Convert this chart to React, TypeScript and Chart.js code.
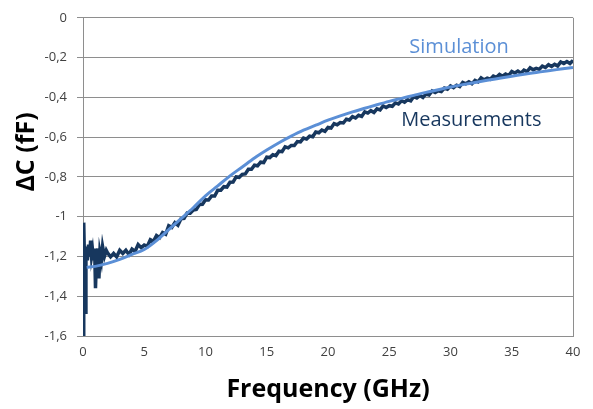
import React, { useEffect, useRef } from "react";
import { Chart, registerables } from "chart.js";

Chart.register(...registerables);

const simFreq = [0.3, 1, 2, 3, 4, 5, 6, 7, 8, 9, 10, 11, 12, 13, 14, 15, 16, 17, 18, 19, 20, 21, 22, 23, 24, 25, 26, 27, 28, 29, 30, 31, 32, 33, 34, 35, 36, 37, 38, 39, 40];
const simValues = [-1.255, -1.25, -1.235, -1.215, -1.19, -1.165, -1.12, -1.065, -1.01, -0.955, -0.895, -0.845, -0.795, -0.75, -0.705, -0.665, -0.628, -0.595, -0.565, -0.54, -0.515, -0.493, -0.473, -0.455, -0.437, -0.42, -0.405, -0.39, -0.375, -0.362, -0.348, -0.336, -0.325, -0.314, -0.304, -0.294, -0.284, -0.275, -0.266, -0.258, -0.25];

const measFreq = [
  0.02, 0.06, 0.12, 0.18, 0.24, 0.3, 0.36, 0.45, 0.55, 0.62, 0.7, 0.78, 0.86, 0.95, 1.02, 1.1, 1.2, 1.3, 1.38, 1.5, 1.6, 1.75, 1.9,
  2, 2.25, 2.5, 2.75, 3, 3.25, 3.5, 3.75, 4, 4.25, 4.5, 4.75, 5, 5.25, 5.5, 5.75, 6, 6.25, 6.5, 6.75, 7, 7.25, 7.5, 7.75,
  8, 8.25, 8.5, 8.75, 9, 9.25, 9.5, 9.75, 10, 10.25, 10.5, 10.75, 11, 11.25, 11.5, 11.75, 12, 12.25, 12.5, 12.75,
  13, 13.25, 13.5, 13.75, 14, 14.25, 14.5, 14.75, 15, 15.25, 15.5, 15.75, 16, 16.25, 16.5, 16.75, 17, 17.25, 17.5, 17.75,
  18, 18.25, 18.5, 18.75, 19, 19.25, 19.5, 19.75, 20, 20.25, 20.5, 20.75, 21, 21.25, 21.5, 21.75, 22, 22.25, 22.5, 22.75,
  23, 23.25, 23.5, 23.75, 24, 24.25, 24.5, 24.75, 25, 25.25, 25.5, 25.75, 26, 26.25, 26.5, 26.75, 27, 27.25, 27.5, 27.75,
  28, 28.25, 28.5, 28.75, 29, 29.25, 29.5, 29.75, 30, 30.25, 30.5, 30.75, 31, 31.25, 31.5, 31.75, 32, 32.25, 32.5, 32.75,
  33, 33.25, 33.5, 33.75, 34, 34.25, 34.5, 34.75, 35, 35.25, 35.5, 35.75, 36, 36.25, 36.5, 36.75, 37, 37.25, 37.5, 37.75,
  38, 38.25, 38.5, 38.75, 39, 39.25, 39.5, 39.75, 40,
];
const measValues = [
  -1.6, -1.03, -1.22, -1.48, -1.2, -1.15, -1.22, -1.14, -1.2, -1.12, -1.2, -1.17, -1.22, -1.16, -1.36, -1.2, -1.16, -1.31, -1.18, -1.22, -1.15, -1.2, -1.17,
  -1.182, -1.202, -1.185, -1.202, -1.169, -1.185, -1.169, -1.19, -1.163, -1.175, -1.14, -1.156, -1.143, -1.149, -1.116, -1.124, -1.095, -1.106, -1.08, -1.088, -1.046, -1.054, -1.03, -1.043,
  -1.011, -1.009, -0.982, -0.983, -0.967, -0.964, -0.939, -0.938, -0.915, -0.916, -0.896, -0.896, -0.867, -0.867, -0.849, -0.851, -0.827, -0.826, -0.8, -0.802,
  -0.787, -0.785, -0.762, -0.762, -0.741, -0.744, -0.726, -0.728, -0.701, -0.703, -0.688, -0.693, -0.671, -0.673, -0.649, -0.654, -0.642, -0.642, -0.622, -0.624,
  -0.605, -0.61, -0.595, -0.598, -0.574, -0.578, -0.564, -0.571, -0.551, -0.554, -0.532, -0.538, -0.527, -0.529, -0.51, -0.514, -0.497, -0.504, -0.49, -0.496,
  -0.473, -0.479, -0.467, -0.476, -0.458, -0.463, -0.443, -0.451, -0.442, -0.445, -0.428, -0.433, -0.417, -0.424, -0.412, -0.418, -0.396, -0.403, -0.391, -0.401,
  -0.383, -0.388, -0.368, -0.376, -0.367, -0.371, -0.353, -0.359, -0.343, -0.351, -0.339, -0.346, -0.325, -0.332, -0.322, -0.332, -0.315, -0.322, -0.302, -0.312,
  -0.304, -0.309, -0.293, -0.299, -0.285, -0.294, -0.283, -0.29, -0.27, -0.278, -0.268, -0.279, -0.263, -0.27, -0.251, -0.261, -0.254, -0.259, -0.243, -0.25,
  -0.236, -0.245, -0.234, -0.242, -0.222, -0.23, -0.22, -0.23, -0.214,
];

const xTitle = "Frequency (GHz)";
const yTitle = "ΔC (fF)";
const simLabel = "Simulation";
const measLabel = "Measurements";

const SIM_COLOR = "#5B8FD6";
const MEAS_COLOR = "#17375E";
const GRID = "#8E8E8E";
const FONT = "'Open Sans', sans-serif";

export default function App() {
  const ref = useRef<HTMLCanvasElement | null>(null);

  useEffect(() => {
    document.body.style.margin = "0";
    const canvas = ref.current;
    if (!canvas) return;

    const textPlugin = {
      id: "texts",
      afterDraw(chart: any) {
        const ctx = chart.ctx;
        const x = chart.scales.x;
        const y = chart.scales.y;
        const area = chart.chartArea;
        ctx.save();
        ctx.textAlign = "center";
        ctx.textBaseline = "middle";
        ctx.font = `20px ${FONT}`;
        ctx.fillStyle = SIM_COLOR;
        ctx.fillText(simLabel, x.getPixelForValue(30.7), y.getPixelForValue(-0.15));
        ctx.fillStyle = MEAS_COLOR;
        ctx.fillText(measLabel, x.getPixelForValue(31.7), y.getPixelForValue(-0.515));
        ctx.fillStyle = "#000";
        ctx.font = `bold 25px ${FONT}`;
        ctx.fillText(xTitle, (area.left + area.right) / 2, 390);
        ctx.translate(27, 152);
        ctx.rotate(-Math.PI / 2);
        ctx.fillText(yTitle, 0, 0);
        ctx.restore();
      },
    };

    const chart = new Chart(canvas, {
      type: "line",
      data: {
        datasets: [
          {
            label: simLabel,
            data: simFreq.map((f, i) => ({ x: f, y: simValues[i] })),
            borderColor: SIM_COLOR,
            borderWidth: 3,
            pointRadius: 0,
            cubicInterpolationMode: "monotone",
            order: 0,
          },
          {
            label: measLabel,
            data: measFreq.map((f, i) => ({ x: f, y: measValues[i] })),
            borderColor: MEAS_COLOR,
            borderWidth: 3.5,
            pointRadius: 0,
            tension: 0,
            order: 1,
          },
        ],
      },
      options: {
        responsive: false,
        animation: false,
        layout: { padding: { top: 15, right: 20, left: 0, bottom: 0 } },
        plugins: { legend: { display: false }, tooltip: { enabled: false } },
        scales: {
          x: {
            type: "linear",
            min: 0,
            max: 40,
            afterFit: (s: any) => {
              s.height = 73;
            },
            ticks: {
              stepSize: 5,
              padding: 8,
              color: "#404040",
              font: { family: FONT, size: 13 },
              maxRotation: 0,
            },
            grid: {
              drawTicks: false,
              color: (c: any) => (c.tick && c.tick.value === 40 ? GRID : "rgba(0,0,0,0)"),
            },
            border: { display: true, color: GRID },
          },
          y: {
            min: -1.6,
            max: 0,
            afterFit: (s: any) => {
              s.width = 83;
            },
            ticks: {
              stepSize: 0.2,
              padding: 10,
              color: "#404040",
              font: { family: FONT, size: 13 },
              callback: (v: any) => String(Number(Number(v).toFixed(1))).replace(".", ","),
            },
            grid: { color: GRID, tickLength: 6, drawTicks: true },
            border: { display: true, color: GRID },
          },
        },
      },
      plugins: [textPlugin],
    } as any);

    return () => chart.destroy();
  }, []);

  return (
    <div style={{ position: "absolute", left: 0, top: 0 }}>
      <canvas ref={ref} width={593} height={409} style={{ width: 593, height: 409 }} />
    </div>
  );
}
